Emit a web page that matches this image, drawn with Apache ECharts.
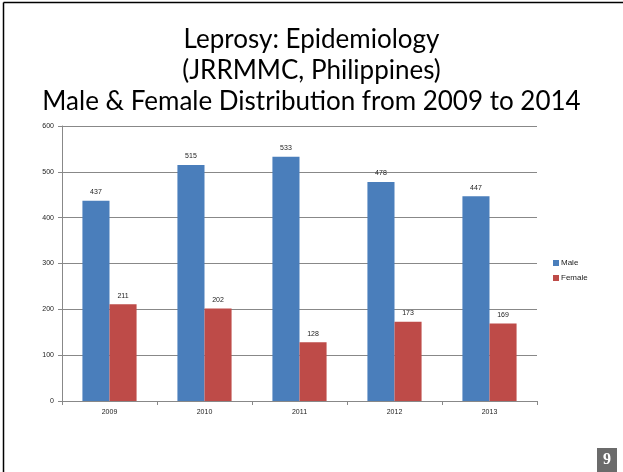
<!DOCTYPE html>
<html>
<head>
<meta charset="utf-8">
<script src="https://cdn.jsdelivr.net/npm/echarts@6/dist/echarts.min.js"></script>
<style>
  html, body { margin: 0; padding: 0; background: #fff; }
  #chart { width: 623px; height: 472px; }
</style>
</head>
<body>
<div id="chart"></div>
<script>
  // data
  const years = ['2009', '2010', '2011', '2012', '2013'];
  const male = [437, 515, 533, 478, 447];
  const female = [211, 202, 128, 173, 169];
  const titleLines = ['Leprosy: Epidemiology', '(JRRMMC, Philippines)', 'Male & Female Distribution from 2009 to 2014'];
  const pageNo = '9';

  const chart = echarts.init(document.getElementById('chart'));

  const labelStyle = {
    show: true,
    position: 'top',
    distance: 5,
    fontSize: 7,
    color: '#222',
    fontFamily: 'Liberation Sans',
  };

  const option = {
    animation: false,
    backgroundColor: '#fff',
    title: {
      text: titleLines.join('\n'),
      left: 'center',
      top: 19,
      textStyle: {
        fontFamily: 'Lato',
        fontWeight: 'normal',
        fontSize: 26,
        lineHeight: 31,
        color: '#000',
      },
    },
    legend: {
      orient: 'vertical',
      left: 548,
      top: 254,
      itemWidth: 6,
      itemHeight: 6,
      itemGap: 7,
      icon: 'rect',
      textStyle: { fontSize: 8, color: '#222', fontFamily: 'Liberation Sans', padding: [0, 0, 0, -3] },
      data: ['Male', 'Female'],
    },
    grid: { left: 62, right: 86, top: 126, bottom: 71 },
    xAxis: {
      type: 'category',
      data: years,
      axisLine: { lineStyle: { color: '#888', width: 1 } },
      axisTick: { show: true, length: 4, lineStyle: { color: '#888' } },
      axisLabel: { fontSize: 7, color: '#222', margin: 8, fontFamily: 'Liberation Sans' },
    },
    yAxis: {
      type: 'value',
      min: 0,
      max: 600,
      interval: 100,
      axisLine: { show: true, lineStyle: { color: '#888', width: 1 } },
      axisTick: { show: true, length: 4, lineStyle: { color: '#888' } },
      axisLabel: { fontSize: 7, color: '#222', margin: 8, fontFamily: 'Liberation Sans' },
      splitLine: { show: true, lineStyle: { color: '#888', width: 1 } },
    },
    series: [
      {
        name: 'Male',
        type: 'bar',
        data: male,
        barGap: '0%',
        barCategoryGap: '43%',
        itemStyle: { color: '#4A7EBB' },
        label: labelStyle,
      },
      {
        name: 'Female',
        type: 'bar',
        data: female,
        itemStyle: { color: '#BE4B48' },
        label: labelStyle,
      },
    ],
    graphic: [
      { type: 'line', shape: { x1: 3.5, y1: 2.5, x2: 623, y2: 2.5 }, style: { stroke: '#000', lineWidth: 1.5 } },
      { type: 'line', shape: { x1: 3.5, y1: 2.5, x2: 3.5, y2: 472 }, style: { stroke: '#000', lineWidth: 1.5 } },
      { type: 'rect', shape: { x: 597, y: 448, width: 20, height: 24 }, style: { fill: '#6b6b6b' } },
      {
        type: 'text',
        x: 607,
        y: 460,
        style: {
          text: pageNo,
          fill: '#fff',
          font: 'bold 16px "Liberation Serif"',
          align: 'center',
          verticalAlign: 'middle',
        },
      },
    ],
  };

  chart.setOption(option);
</script>
</body>
</html>
